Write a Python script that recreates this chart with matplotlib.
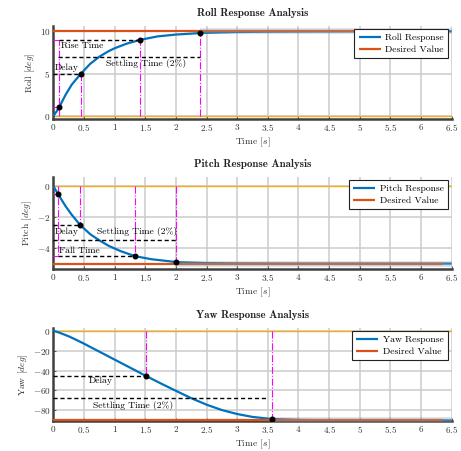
import matplotlib
matplotlib.use("Agg")
import matplotlib.pyplot as plt
from matplotlib.ticker import FuncFormatter, FixedLocator

plt.rcParams['font.family'] = ['cmr10', 'DejaVu Serif']
plt.rcParams['mathtext.fontset'] = 'cm'
plt.rcParams['axes.formatter.use_mathtext'] = True

# ---------------- data ----------------
roll_t = [0, 0.05, 0.1, 0.2, 0.3, 0.45, 0.6, 0.75, 0.9, 1.0, 1.2, 1.42, 1.7, 2.0, 2.4, 3.0, 3.5, 4.0, 5.0, 6.0, 6.5]
roll_y = [0, 0.5, 1.1, 2.5, 3.7, 5.0, 6.15, 7.0, 7.65, 8.0, 8.55, 9.0, 9.4, 9.62, 9.8, 9.92, 9.96, 9.98, 10.0, 10.0, 10.0]

pitch_t = [0, 0.08, 0.2, 0.3, 0.435, 0.6, 0.75, 0.9, 1.1, 1.33, 1.6, 2.0, 2.5, 3.0, 4.0, 5.0, 6.5]
pitch_y = [0, -0.54, -1.3, -1.85, -2.5, -3.1, -3.5, -3.85, -4.2, -4.52, -4.72, -4.9, -4.97, -4.99, -5.0, -5.0, -5.0]

yaw_t = [0, 0.1, 0.25, 0.375, 0.5, 0.75, 1.0, 1.25, 1.5, 1.75, 2.0, 2.25, 2.5, 2.75, 3.0, 3.25, 3.55, 4.0, 4.5, 5.0, 6.5]
yaw_y = [0, -2.0, -5.6, -9.2, -13, -21, -29, -37, -45, -52.8, -60.3, -67.7, -74.2, -79.6, -83.6, -86.5, -88.5, -89.5, -89.9, -90, -90]

desired = [10.0, -5.0, -90.0]
desired_end = 6.35

# markers (time, value)
roll_pts = [(0.1, 1.1), (0.45, 5.0), (1.42, 9.0), (2.4, 9.8)]
pitch_pts = [(0.08, -0.54), (0.435, -2.5), (1.33, -4.52), (2.0, -4.9)]
yaw_pts = [(1.52, -45.0), (3.56, -88.5)]

x_ticks = [0, 0.5, 1, 1.5, 2, 2.5, 3, 3.5, 4, 4.5, 5, 5.5, 6, 6.5]

BLUE = '#0072BD'
RED = '#D95319'
YEL = '#EDB120'
MAG = '#FF00FF'

W, H = 461, 451
fig = plt.figure(figsize=(W / 100, H / 100), dpi=100)

def make_ax(top_px, bot_px):
    left, right = 53.3, 451.7
    return fig.add_axes([left / W, 1 - bot_px / H, (right - left) / W, (bot_px - top_px) / H])

fmt = FuncFormatter(lambda v, p: "$%g$" % v)
FS = 6.6

def style(ax, ylim, yticks, title, ylabel):
    ax.set_xlim(0, 6.5)
    ax.set_ylim(*ylim)
    ax.xaxis.set_major_locator(FixedLocator(x_ticks))
    ax.yaxis.set_major_locator(FixedLocator(yticks))
    ax.xaxis.set_major_formatter(fmt)
    ax.yaxis.set_major_formatter(fmt)
    ax.grid(True, color='#cccccc', linewidth=1.1, zorder=0)
    ax.set_axisbelow(True)
    for s in ['top', 'right']:
        ax.spines[s].set_visible(False)
    for s in ['left', 'bottom']:
        ax.spines[s].set_color('#404040')
        ax.spines[s].set_linewidth(1.8)
    ax.tick_params(labelsize=FS, length=2, width=0.6, direction='in', colors='#404040', labelcolor='#333333', pad=2)
    ax.set_title(title, family='cmb10', fontsize=7.9, pad=7, color='#222222')
    ax.set_xlabel("Time [$s$]", fontsize=FS + 0.3, labelpad=2, color='#333333')
    ax.set_ylabel(ylabel, fontsize=FS + 0.3, labelpad=2, color='#333333')

def base(ax, t, y, dval, settle_t, name):
    ax.axhline(0, color=YEL, lw=1.0, zorder=2)
    ax.plot(t, y, color=BLUE, lw=1.6, zorder=3, label=name + " Response", solid_capstyle='butt')
    ax.plot([0, desired_end], [dval, dval], color=RED, lw=1.6, zorder=4, label="Desired Value", clip_on=False, solid_capstyle='butt')
    ax.plot([settle_t, 6.5], [dval, dval], color='#8a9aa8', lw=4.0, alpha=0.35, zorder=5, solid_capstyle='butt', clip_on=False)
    leg = ax.legend(loc='upper right', fontsize=FS + 0.3, frameon=True, fancybox=False,
                    edgecolor='#222222', framealpha=1, borderpad=0.45, handlelength=2.3,
                    handletextpad=0.5, labelspacing=0.3, borderaxespad=0.35)
    leg.get_frame().set_linewidth(0.8)

def vline(ax, x, y0, y1):
    ax.plot([x, x], [y0, y1], color=MAG, lw=0.8, ls='-.', zorder=6)

def hmag(ax, y, x0, x1):
    ax.plot([x0, x1], [y, y], color=MAG, lw=0.8, ls='-.', zorder=6)

def hdash(ax, y, x0, x1):
    ax.plot([x0, x1], [y, y], color='black', lw=1.0, ls=(0, (3, 2)), zorder=7)

def dots(ax, pts):
    ax.plot([p[0] for p in pts], [p[1] for p in pts], 'o', color='black', ms=3.3, zorder=9)

# ---------------- Roll ----------------
ax1 = make_ax(26, 119)
base(ax1, roll_t, roll_y, desired[0], 2.4, "Roll")
style(ax1, (-0.35, 10.63), [0, 5, 10], "Roll Response Analysis", "Roll [$deg$]")
vline(ax1, 0.1, 0, 9.0)
vline(ax1, 0.45, 0, 5.0)
vline(ax1, 1.42, 0, 9.0)
vline(ax1, 2.4, 0, 9.8)
hmag(ax1, 1.1, 0, 0.1)
hmag(ax1, 9.0, 0, 0.1)
hdash(ax1, 9.0, 0.1, 1.42)
hdash(ax1, 5.0, 0, 0.45)
hdash(ax1, 7.0, 0.08, 2.4)
dots(ax1, roll_pts)
ax1.text(0.12, 8.25, "Rise Time", fontsize=FS + 0.3, va='center', zorder=8)
ax1.text(0.02, 5.65, "Delay", fontsize=FS + 0.3, va='center', zorder=8)
ax1.text(0.86, 6.2, "Settling Time (2%)", fontsize=FS + 0.3, va='center', zorder=8)

# ---------------- Pitch ----------------
ax2 = make_ax(177, 269)
base(ax2, pitch_t, pitch_y, desired[1], 2.0, "Pitch")
style(ax2, (-5.35, 0.58), [0, -2, -4], "Pitch Response Analysis", "Pitch [$deg$]")
vline(ax2, 0.08, 0, -4.5)
vline(ax2, 0.435, 0, -2.5)
vline(ax2, 1.33, 0, -4.52)
vline(ax2, 2.0, 0, -4.9)
hmag(ax2, -0.54, 0, 0.08)
hmag(ax2, -4.5, 0, 0.08)
hdash(ax2, -2.5, 0, 0.435)
hdash(ax2, -3.5, 0, 2.0)
hdash(ax2, -4.5, 0.08, 1.33)
dots(ax2, pitch_pts)
ax2.text(0.03, -2.93, "Delay", fontsize=FS + 0.3, va='center', zorder=8)
ax2.text(0.72, -2.93, "Settling Time (2%)", fontsize=FS + 0.3, va='center', zorder=8)
ax2.text(0.09, -4.15, "Fall Time", fontsize=FS + 0.3, va='center', zorder=8)

# ---------------- Yaw ----------------
ax3 = make_ax(328, 421)
base(ax3, yaw_t, yaw_y, desired[2], 3.56, "Yaw")
style(ax3, (-90.6, 2.7), [0, -20, -40, -60, -80], "Yaw Response Analysis", "Yaw [$deg$]")
vline(ax3, 1.52, 0, -45)
vline(ax3, 3.56, 0, -88.5)
hdash(ax3, -45, 0, 1.52)
hdash(ax3, -67.7, 0, 3.5)
dots(ax3, yaw_pts)
ax3.text(0.57, -50.7, "Delay", fontsize=FS + 0.3, va='center', zorder=8)
ax3.text(0.64, -75.5, "Settling Time (2%)", fontsize=FS + 0.3, va='center', zorder=8)

fig.savefig("out.png", dpi=100)
